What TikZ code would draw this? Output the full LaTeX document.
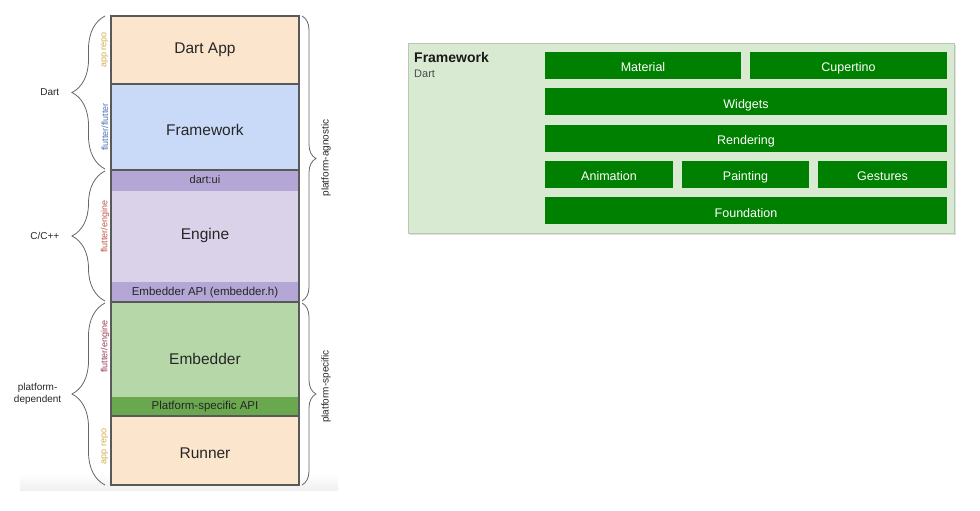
\documentclass[tikz,border=0pt]{standalone}
\usepackage{fontspec}
\setmainfont{Liberation Sans}
\usetikzlibrary{positioning,calc,decorations.pathreplacing,shadows}
\definecolor{apppeach}{HTML}{FCE5CD}
\definecolor{fwblue}{HTML}{C9DAF8}
\definecolor{apipurple}{HTML}{B4A7D6}
\definecolor{enginelilac}{HTML}{D9D2E9}
\definecolor{embgreen}{HTML}{B6D7A8}
\definecolor{platgreen}{HTML}{6AA84F}
\definecolor{stackline}{HTML}{595959}
\definecolor{braceline}{HTML}{666666}
\definecolor{repogold}{HTML}{D1AE4A}
\definecolor{flutterblue}{HTML}{4F74B8}
\definecolor{enginered}{HTML}{BF5648}
\definecolor{embedred}{HTML}{983F55}
\definecolor{panelgreen}{HTML}{D9EAD3}
\definecolor{panelline}{HTML}{B5C9B1}
\definecolor{fwgreen}{RGB}{0,128,0}
\tikzset{
  layer/.style={anchor=north, minimum width=188pt, inner sep=0pt, outer sep=0pt,
    text height=0.72em, text depth=0.1em, text=black!85, font=\fontsize{15.5}{18}\selectfont},
  thinlayer/.style={layer, font=\fontsize{11.5}{13}\selectfont},
  rule/.style={draw=stackline, line width=1.5pt},
  brace/.style={decorate, decoration={brace, amplitude=#1}, draw=braceline, line width=0.8pt},
  repo/.style={rotate=90, font=\fontsize{9}{10}\selectfont},
  side/.style={text=black!85, font=\fontsize{10}{11.5}\selectfont, align=center},
  part/.style={fill=fwgreen, text=white, minimum height=27pt, inner sep=0pt, outer sep=0pt,
    text height=13pt, text depth=0pt, font=\fontsize{12.5}{14}\selectfont, anchor=north west},
}
\begin{document}
\begin{tikzpicture}[x=1pt, y=-1pt]
\useasboundingbox (0,0) rectangle (980,511);
% faded floor under the stack
\fill[top color=white, bottom color=black!6] (20,474) rectangle (338,490);

% the engine stack
\node[layer, fill=apppeach, minimum height=68pt] (app) at (205,16) {Dart App};
\node[layer, fill=fwblue, minimum height=86pt, below=0pt of app, text height=17pt] (fw) {Framework};
\node[thinlayer, fill=apipurple, minimum height=21pt, below=0pt of fw,
  font=\fontsize{11}{12}\selectfont] (dartui) {dart:ui};
\node[layer, fill=enginelilac, minimum height=91pt, below=0pt of dartui] (engine) {Engine};
\node[thinlayer, fill=apipurple, minimum height=20pt, below=0pt of engine] (embapi) {Embedder API (embedder.h)};
\node[layer, fill=embgreen, minimum height=95pt, below=0pt of embapi, text height=30pt] (embedder) {Embedder};
\node[thinlayer, fill=platgreen, minimum height=19pt, below=0pt of embedder] (platapi) {Platform-specific API};
\node[layer, fill=apppeach, minimum height=69pt, below=0pt of platapi, text height=17pt] (runner) {Runner};

\draw[rule] (app.north west) rectangle (runner.south east);
\draw[rule] (app.south west) -- (app.south east);
\draw[rule] (fw.south west) -- (fw.south east);
\draw[rule] (embapi.south west) -- (embapi.south east);
\draw[rule] (platapi.south west) -- (platapi.south east);

% repositories
\node[repo, text=repogold] (apprepo) at ($(app.west)+(-6,0)$) {app repo};
\node[repo, text=flutterblue] (fwrepo) at ($(fw.west)+(-6,0)$) {flutter/flutter};
\node[repo, text=enginered] (enginerepo) at ($(engine.west)+(-6,-10)$) {flutter/engine};
\node[repo, text=embedred] (embedrepo) at ($(embedder.west)+(-6,-3)$) {flutter/engine};
\node[repo, text=repogold] (runnerrepo) at ($(runner.west)+(-6,-4)$) {app repo};

% languages
\draw[brace=33pt] ([xshift=-6pt, yshift=1pt]fw.south west)
  -- node[side, midway, left=42pt] (dartlang) {Dart} ([xshift=-6pt]app.north west);
\draw[brace=33pt] ([xshift=-6pt, yshift=1pt]embapi.south west)
  -- node[side, midway, left=42pt] (clang) {C/C++} ([xshift=-6pt, yshift=-1pt]dartui.north west);
\draw[brace=33pt] ([xshift=-6pt]runner.south west)
  -- node[side, midway, left=40pt] (platdep) {platform-\\dependent} ([xshift=-6pt, yshift=-1pt]embedder.north west);

% platform split
\draw[brace=14pt] ([xshift=3pt]app.north east) -- ([xshift=3pt, yshift=1pt]embapi.south east);
\draw[brace=14pt] ([xshift=3pt, yshift=-1pt]embedder.north east) -- ([xshift=3pt]runner.south east);
\node[side, rotate=90] (agnostic) at ($(app.north east)!0.5!(embapi.south east)+(27,-1)$) {platform-agnostic};
\node[side, rotate=90] (specific) at ($(embedder.north east)!0.5!(runner.south east)+(27,-7)$) {platform-specific};

% framework layers
\node[fill=panelgreen, draw=panelline, minimum width=546pt, minimum height=190pt, anchor=north west,
  drop shadow={shadow xshift=1.5pt, shadow yshift=-1.5pt, opacity=0.25}] (fwpanel) at (408,43) {};
\node[anchor=north west, inner sep=0pt, font=\bfseries\fontsize{14}{16}\selectfont, text=black!90]
  (fwtitle) at ([xshift=6pt, yshift=-9pt]fwpanel.north west) {Framework};
\node[below=7pt of fwtitle.south west, anchor=north west, inner sep=0pt,
  font=\fontsize{11}{13}\selectfont, text=black!70] (fwlang) {Dart};

\node[part, minimum width=196pt] (material) at (545,52) {Material};
\node[part, minimum width=197pt, right=9pt of material] (cupertino) {Cupertino};
\node[part, minimum width=402pt, below=9.25pt of material.south west, anchor=north west] (widgets) {Widgets};
\node[part, minimum width=402pt, below=9.25pt of widgets.south west, anchor=north west] (rendering) {Rendering};
\node[part, minimum width=128pt, below=9.25pt of rendering.south west, anchor=north west] (animation) {Animation};
\node[part, minimum width=127pt, right=9pt of animation] (painting) {Painting};
\node[part, minimum width=129pt, right=9pt of painting] (gestures) {Gestures};
\node[part, minimum width=402pt, below=9.25pt of animation.south west, anchor=north west] (foundation) {Foundation};
\end{tikzpicture}
\end{document}
